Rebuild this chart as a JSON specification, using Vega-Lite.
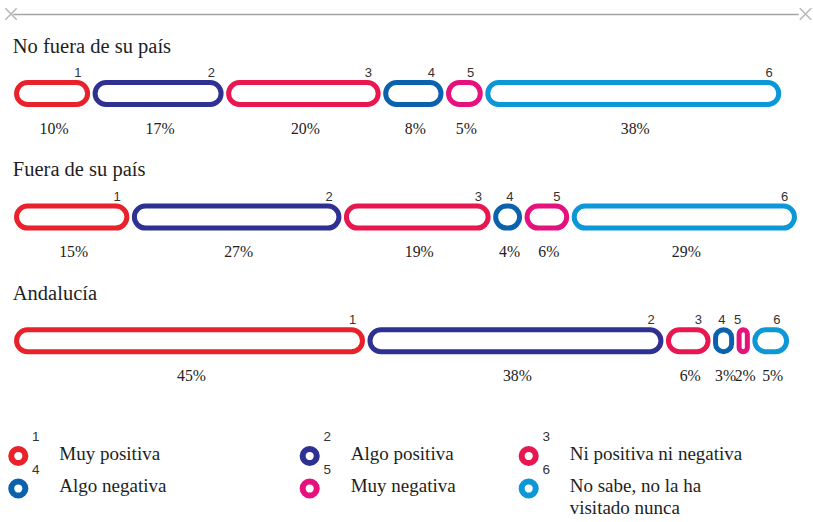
{
  "$schema": "https://vega.github.io/schema/vega-lite/v6.json",
  "width": 813,
  "height": 508,
  "autosize": "none",
  "padding": {"top": 14, "left": 0, "right": 0, "bottom": 0},
  "background": "white",
  "config": {"view": {"stroke": null}},
  "datasets": {
    "barras": [
      {"grupo": "No fuera de su país", "cat": 1, "pct": 0.10},
      {"grupo": "No fuera de su país", "cat": 2, "pct": 0.17},
      {"grupo": "No fuera de su país", "cat": 3, "pct": 0.20},
      {"grupo": "No fuera de su país", "cat": 4, "pct": 0.08},
      {"grupo": "No fuera de su país", "cat": 5, "pct": 0.05},
      {"grupo": "No fuera de su país", "cat": 6, "pct": 0.38},
      {"grupo": "Fuera de su país", "cat": 1, "pct": 0.15},
      {"grupo": "Fuera de su país", "cat": 2, "pct": 0.27},
      {"grupo": "Fuera de su país", "cat": 3, "pct": 0.19},
      {"grupo": "Fuera de su país", "cat": 4, "pct": 0.04},
      {"grupo": "Fuera de su país", "cat": 5, "pct": 0.06},
      {"grupo": "Fuera de su país", "cat": 6, "pct": 0.29},
      {"grupo": "Andalucía", "cat": 1, "pct": 0.45},
      {"grupo": "Andalucía", "cat": 2, "pct": 0.38},
      {"grupo": "Andalucía", "cat": 3, "pct": 0.06},
      {"grupo": "Andalucía", "cat": 4, "pct": 0.03},
      {"grupo": "Andalucía", "cat": 5, "pct": 0.02},
      {"grupo": "Andalucía", "cat": 6, "pct": 0.05}
    ],
    "leyenda": [
      {"cat": 1, "etiqueta": "Muy positiva"},
      {"cat": 2, "etiqueta": "Algo positiva"},
      {"cat": 3, "etiqueta": "Ni positiva ni negativa"},
      {"cat": 4, "etiqueta": "Algo negativa"},
      {"cat": 5, "etiqueta": "Muy negativa"},
      {"cat": 6, "etiqueta": "No sabe, no la ha\nvisitado nunca"}
    ]
  },
  "resolve": {"scale": {"x": "independent", "y": "independent"}},
  "layer": [
    {
      "data": {"name": "barras"},
      "transform": [
        {"stack": "pct", "groupby": ["grupo"], "sort": [{"field": "cat", "order": "ascending"}], "as": ["ini", "fin"]},
        {"calculate": "(datum.ini + datum.fin) / 2", "as": "mitad"}
      ],
      "layer": [
        {
          "mark": {"type": "bar", "height": 22, "cornerRadius": 11, "fill": "white", "strokeWidth": 5, "xOffset": 3.75, "x2Offset": -3.75},
          "encoding": {
            "x": {"field": "ini", "type": "quantitative", "scale": {"domain": [0, 1], "range": [12.8, 798.2], "nice": false, "zero": false},
                  "axis": {"orient": "top", "ticks": false, "labels": false, "grid": false, "title": null, "domainColor": "#a3a3a3", "domainWidth": 1.5}},
            "x2": {"field": "fin"},
            "y": {"field": "grupo", "type": "nominal", "sort": ["No fuera de su país", "Fuera de su país", "Andalucía"],
                  "scale": {"type": "point", "domain": ["No fuera de su país", "Fuera de su país", "Andalucía"], "range": [79.5, 326.7], "padding": 0}, "axis": null},
            "stroke": {"field": "cat", "type": "nominal", "scale": {"domain": [1, 2, 3, 4, 5, 6], "range": ["#e8212a", "#2e3192", "#e8174f", "#0a62ad", "#e5127d", "#0c97d7"]}, "legend": null}
          }
        },
        {
          "mark": {"type": "text", "font": "Liberation Sans", "fontSize": 13, "fill": "#333333", "align": "center", "baseline": "alphabetic", "dx": -13.5, "dy": -16.5},
          "encoding": {
            "x": {"field": "fin", "type": "quantitative", "axis": {"orient": "top", "ticks": false, "labels": false, "grid": false, "title": null, "domainColor": "#a3a3a3", "domainWidth": 1.5}},
            "y": {"field": "grupo", "type": "nominal", "sort": ["No fuera de su país", "Fuera de su país", "Andalucía"], "axis": null},
            "text": {"field": "cat", "type": "nominal"}
          }
        },
        {
          "mark": {"type": "text", "font": "Liberation Serif", "fontSize": 15.8, "fill": "#222222", "align": "center", "baseline": "alphabetic", "dx": 2, "dy": 40},
          "encoding": {
            "x": {"field": "mitad", "type": "quantitative", "axis": {"orient": "top", "ticks": false, "labels": false, "grid": false, "title": null, "domainColor": "#a3a3a3", "domainWidth": 1.5}},
            "y": {"field": "grupo", "type": "nominal", "sort": ["No fuera de su país", "Fuera de su país", "Andalucía"], "axis": null},
            "text": {"field": "pct", "type": "quantitative", "format": ".0%"}
          }
        },
        {
          "transform": [{"filter": "datum.cat == 1"}],
          "mark": {"type": "text", "font": "Liberation Serif", "fontSize": 20.5, "fill": "#1e1e1e", "align": "left", "baseline": "alphabetic", "dy": -41},
          "encoding": {
            "x": {"field": "ini", "type": "quantitative", "axis": {"orient": "top", "ticks": false, "labels": false, "grid": false, "title": null, "domainColor": "#a3a3a3", "domainWidth": 1.5}},
            "y": {"field": "grupo", "type": "nominal", "sort": ["No fuera de su país", "Fuera de su país", "Andalucía"], "axis": null},
            "text": {"field": "grupo", "type": "nominal"}
          }
        }
      ]
    },
    {
      "data": {"values": [{"marca": "inicio"}]},
      "mark": {"type": "point", "shape": "M-1,-1L1,1M-1,1L1,-1", "size": 130, "filled": false, "stroke": "#9a9a9a", "strokeWidth": 1.5},
      "encoding": {
        "x": {"datum": -0.0023, "type": "quantitative", "scale": {"domain": [0, 1], "range": [12.8, 798.2], "nice": false, "zero": false}, "axis": null},
        "y": {"value": 0}
      }
    },
    {
      "data": {"values": [{"marca": "fin"}]},
      "mark": {"type": "point", "shape": "M-1,-1L1,1M-1,1L1,-1", "size": 130, "filled": false, "stroke": "#9a9a9a", "strokeWidth": 1.5},
      "encoding": {
        "x": {"datum": 1.0093, "type": "quantitative", "scale": {"domain": [0, 1], "range": [12.8, 798.2], "nice": false, "zero": false}, "axis": null},
        "y": {"value": 0}
      }
    },
    {
      "data": {"name": "leyenda"},
      "encoding": {
        "x": {"field": "cat", "type": "quantitative", "scale": {"domain": [1, 2, 3, 4, 5, 6], "range": [18.3, 309.7, 528.7, 18.3, 309.7, 528.7], "nice": false, "zero": false}, "axis": null},
        "y": {"field": "cat", "type": "quantitative", "scale": {"domain": [1, 2, 3, 4, 5, 6], "range": [442, 442, 442, 474.5, 474.5, 474.5], "nice": false, "zero": false}, "axis": null}
      },
      "layer": [
        {
          "mark": {"type": "point", "shape": "circle", "size": 200, "filled": false, "fill": "white", "strokeWidth": 6, "opacity": 1},
          "encoding": {
            "stroke": {"field": "cat", "type": "nominal", "scale": {"domain": [1, 2, 3, 4, 5, 6], "range": ["#e8212a", "#2e3192", "#e8174f", "#0a62ad", "#e5127d", "#0c97d7"]}, "legend": null}
          }
        },
        {
          "mark": {"type": "text", "font": "Liberation Sans", "fontSize": 13.5, "fill": "#333333", "align": "center", "baseline": "alphabetic", "dx": 17.5, "dy": -15},
          "encoding": {"text": {"field": "cat", "type": "nominal"}}
        },
        {
          "mark": {"type": "text", "font": "Liberation Serif", "fontSize": 19, "fill": "#1e1e1e", "align": "left", "baseline": "alphabetic", "dx": 41, "dy": 3.8, "lineBreak": "\n", "lineHeight": 21.7},
          "encoding": {"text": {"field": "etiqueta", "type": "nominal"}}
        }
      ]
    }
  ]
}
